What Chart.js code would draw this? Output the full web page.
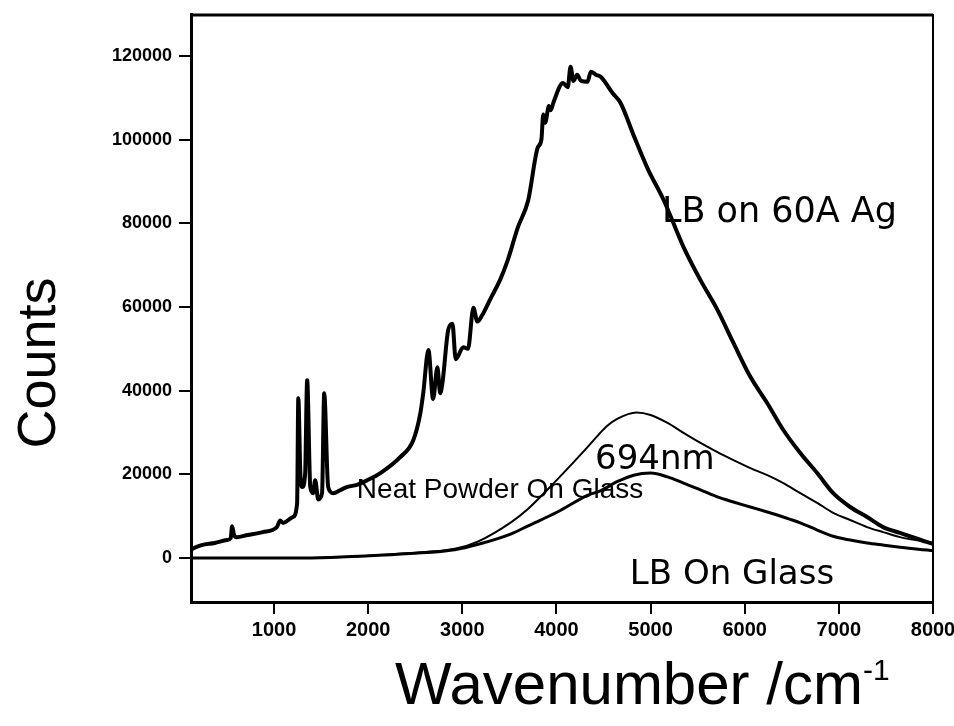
<!DOCTYPE html>
<html>
<head>
<meta charset="utf-8">
<script src="https://cdn.jsdelivr.net/npm/chart.js@4"></script>
<style>
  body { margin: 0; background: #fff; }
</style>
</head>
<body>
<canvas id="myChart" width="954" height="726"></canvas>
<script>
// LB on 60A Ag (thick curve, with Raman lines)
const agWave = [120, 150, 230, 370, 500, 540, 555, 575, 600, 720, 880, 1030, 1065, 1095, 1200, 1245, 1258, 1280, 1300, 1330, 1352, 1385, 1415, 1437, 1470, 1510, 1533, 1575, 1630, 1700, 1780, 1880, 1990, 2130, 2340, 2480, 2555, 2585, 2640, 2690, 2735, 2765, 2790, 2850, 2895, 2930, 3010, 3060, 3118, 3160, 3210, 3300, 3400, 3480, 3590, 3700, 3800, 3840, 3860, 3880, 3920, 3940, 3970, 4070, 4120, 4150, 4180, 4220, 4260, 4330, 4365, 4420, 4470, 4600, 4680, 4820, 4970, 5140, 5350, 5530, 5710, 5880, 6060, 6240, 6410, 6590, 6770, 6940, 7120, 7300, 7470, 7650, 7940, 8000];
const agCounts = [2000, 2400, 3100, 3600, 4300, 4800, 7600, 5500, 5000, 5500, 6200, 7400, 9000, 8400, 9800, 13000, 38200, 20000, 17000, 20000, 42500, 17000, 15500, 18600, 14000, 15500, 39400, 17000, 15500, 16200, 17000, 17500, 18600, 20300, 24100, 28200, 34700, 39400, 49700, 38000, 45600, 39400, 42000, 54500, 56000, 47500, 50400, 50000, 59800, 56500, 58000, 62000, 66400, 71000, 79000, 85500, 98000, 100000, 106000, 104000, 108000, 107000, 109000, 113500, 112500, 117400, 114000, 115500, 114000, 113800, 116200, 115500, 115000, 111000, 108800, 101000, 93000, 85500, 74300, 66400, 59300, 51400, 43300, 37000, 30600, 25100, 20300, 15500, 12200, 9800, 7400, 6000, 3800, 3400];

// thin curve, peak near 35000
const powderWave = [120, 1000, 1500, 1970, 2450, 2920, 3170, 3520, 3700, 4010, 4330, 4460, 4550, 4650, 4760, 4850, 5000, 5180, 5350, 5530, 5710, 5880, 6060, 6240, 6410, 6590, 6770, 6940, 7120, 7300, 7470, 7650, 7940, 8000];
const powderCounts = [0, 0, 100, 500, 1200, 2200, 4000, 8600, 11800, 18800, 26500, 29800, 31800, 33300, 34400, 34800, 34200, 32300, 29900, 27500, 25300, 23400, 21500, 19800, 17900, 15500, 13200, 10800, 9100, 7400, 6200, 5000, 3800, 3500];

// thicker lower curve, peak near 20000
const glassWave = [120, 1000, 1500, 1970, 2450, 2920, 3170, 3520, 3700, 4010, 4330, 4460, 4650, 4820, 5000, 5180, 5350, 5530, 5710, 5880, 6060, 6240, 6410, 6590, 6770, 6940, 7120, 7300, 7470, 7650, 7940, 8000];
const glassCounts = [0, 0, 100, 500, 1100, 2000, 3300, 5800, 7700, 11000, 15000, 16000, 18300, 19800, 20300, 19400, 17900, 16300, 14600, 13400, 12200, 11000, 9800, 8400, 6700, 5200, 4300, 3600, 3100, 2600, 1900, 1800];

const xTicks = [1000, 2000, 3000, 4000, 5000, 6000, 7000, 8000];
const yTicks = [0, 20000, 40000, 60000, 80000, 100000, 120000];

// curve labels, placed in data units
const labelTexts = ["LB on 60A Ag", "694nm", "Neat Powder On Glass", "LB On Glass"];
const labelX = [5120, 4410, 1880, 4780];
const labelY = [82500, 23400, 16200, -4100];

const toPoints = (xs, ys) => xs.map((x, i) => ({ x: x, y: ys[i] }));

const tickFamily = "'Liberation Sans', Arial, sans-serif";

const extras = {
  id: "extras",
  afterDraw: (chart) => {
    const ctx = chart.ctx;
    const a = chart.chartArea;
    const sx = chart.scales.x;
    const sy = chart.scales.y;
    ctx.save();
    ctx.strokeStyle = "#000";
    // top and right of the frame
    ctx.lineWidth = 3;
    ctx.beginPath();
    ctx.moveTo(a.left, a.top + 1);
    ctx.lineTo(a.right, a.top + 1);
    ctx.stroke();
    ctx.lineWidth = 2;
    ctx.beginPath();
    ctx.moveTo(a.right, a.top);
    ctx.lineTo(a.right, a.bottom);
    ctx.stroke();

    ctx.fillStyle = "#000";
    ctx.textBaseline = "middle";
    ctx.textAlign = "left";
    labelTexts.forEach((t, i) => {
      if (i == 2) ctx.font = "28px 'Liberation Sans', Arial, sans-serif";
      else if (i == 0) ctx.font = "35px 'DejaVu Sans', sans-serif";
      else ctx.font = "34px 'DejaVu Sans', sans-serif";
      ctx.fillText(t, sx.getPixelForValue(labelX[i]), sy.getPixelForValue(labelY[i]));
    });

    // axis titles
    ctx.font = "60px 'Liberation Sans', Arial, sans-serif";
    ctx.textBaseline = "alphabetic";
    ctx.fillText("Wavenumber /cm", 395, 704);
    const w = ctx.measureText("Wavenumber /cm").width;
    ctx.font = "30px 'Liberation Sans', Arial, sans-serif";
    ctx.fillText("-1", 395 + w, 680);

    ctx.translate(55, 363);
    ctx.rotate(-Math.PI / 2);
    ctx.textAlign = "center";
    ctx.font = "54px 'Liberation Sans', Arial, sans-serif";
    ctx.fillText("Counts", 0, 0);
    ctx.restore();
  }
};

const myChart = new Chart("myChart", {
  type: "line",
  data: {
    datasets: [
      { label: "LB on 60A Ag", data: toPoints(agWave, agCounts), borderColor: "#000", borderWidth: 4, cubicInterpolationMode: "monotone" },
      { label: "Neat Powder On Glass", data: toPoints(powderWave, powderCounts), borderColor: "#000", borderWidth: 2, cubicInterpolationMode: "monotone" },
      { label: "LB On Glass", data: toPoints(glassWave, glassCounts), borderColor: "#000", borderWidth: 3, cubicInterpolationMode: "monotone" }
    ]
  },
  options: {
    responsive: false,
    animation: false,
    devicePixelRatio: 1,
    layout: { padding: { top: 14, right: 21, left: 0, bottom: 0 } },
    elements: { point: { radius: 0 }, line: { borderJoinStyle: "round", borderCapStyle: "round" } },
    plugins: { legend: { display: false }, tooltip: { enabled: false } },
    scales: {
      x: {
        type: "linear",
        min: 118,
        max: 8000,
        afterBuildTicks: (s) => { s.ticks = xTicks.map(v => ({ value: v })); },
        afterFit: (s) => { s.height = 124; s.paddingLeft = 0; s.paddingRight = 0; },
        ticks: { font: { family: tickFamily, weight: "bold", size: 20 }, color: "#000", padding: 4, maxRotation: 0, autoSkip: false, callback: (v) => String(v) },
        grid: { drawOnChartArea: false, tickLength: 12, lineWidth: 2, color: "#000" },
        border: { color: "#000", width: 3 }
      },
      y: {
        min: -10500,
        max: 130000,
        afterBuildTicks: (s) => { s.ticks = yTicks.map(v => ({ value: v })); },
        afterFit: (s) => { s.width = 191; s.paddingTop = 0; s.paddingBottom = 0; },
        ticks: { font: { family: tickFamily, weight: "bold", size: 18 }, color: "#000", padding: 7, autoSkip: false, callback: (v) => String(v) },
        grid: { drawOnChartArea: false, tickLength: 12, lineWidth: 2, color: "#000" },
        border: { color: "#000", width: 3 }
      }
    }
  },
  plugins: [extras]
});
</script>
</body>
</html>
